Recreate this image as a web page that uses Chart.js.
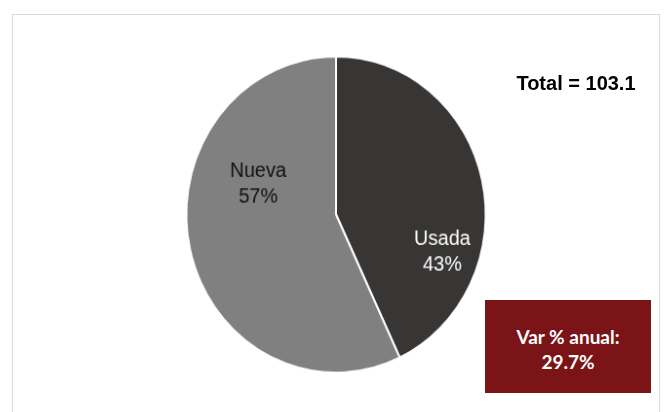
<!DOCTYPE html>
<html>
<head>
<meta charset="utf-8">
<script src="https://cdn.jsdelivr.net/npm/chart.js@4"></script>
<style>
    html, body { margin: 0; padding: 0; background: #fff; }
    #wrap { position: relative; width: 664px; height: 412px; overflow: hidden; }
    #frame {
        position: absolute; left: 12px; top: 14px; width: 648px; height: 420px;
        border: 1px solid #d9d9d9; box-sizing: border-box;
    }
    /* the reference pie is slightly taller than wide */
    #pieChart {
        position: absolute; left: 0; top: 0;
        transform-origin: 336px 214px; transform: scale(0.975, 1.03);
    }
    #total {
        position: absolute; left: 490px; top: 72px; width: 172px; text-align: center;
        font: bold 20px "Liberation Sans", Arial, sans-serif; color: #000;
    }
    #varBox {
        position: absolute; left: 485px; top: 300px; width: 166px; height: 93px;
        background: #7a1416; color: #fff; text-align: center;
        font: bold 19px Lato, "Open Sans", sans-serif; line-height: 25px;
        box-sizing: border-box; padding-top: 24px;
    }
</style>
</head>
<body>
<div id="wrap">
    <div id="frame"></div>
    <canvas id="pieChart" width="664" height="412"></canvas>
    <div id="total">Total = 103.1</div>
    <div id="varBox">Var % anual:<br>29.7%</div>
</div>
<script>
// Pie data
const categories = ['Usada', 'Nueva'];
const shares = [43, 57];
const sliceColors = ['#383635', '#808080'];
const labelColors = ['#ffffff', '#111111'];
// label anchor offsets, as a fraction of the radius
const labelOffsets = [[0.71, 0.235], [-0.52, -0.195]];

const sliceLabels = {
    id: 'sliceLabels',
    afterDatasetsDraw(chart) {
        const ctx = chart.ctx;
        const meta = chart.getDatasetMeta(0);
        ctx.save();
        ctx.font = '20px "Liberation Sans", Arial, sans-serif';
        ctx.textAlign = 'center';
        ctx.textBaseline = 'middle';
        meta.data.forEach((arc, i) => {
            const r = arc.outerRadius;
            const x = arc.x + labelOffsets[i][0] * r;
            const y = arc.y + labelOffsets[i][1] * r;
            ctx.fillStyle = labelColors[i];
            ctx.fillText(categories[i], x, y - 12);
            ctx.fillText(shares[i] + '%', x, y + 13);
        });
        ctx.restore();
    }
};

new Chart(document.getElementById('pieChart').getContext('2d'), {
    type: 'pie',
    data: {
        labels: categories,
        datasets: [{
            data: shares,
            backgroundColor: sliceColors,
            borderColor: '#ffffff',
            borderWidth: 2
        }]
    },
    options: {
        responsive: false,
        animation: false,
        layout: { padding: { top: 60, bottom: 43, left: 181, right: 173 } },
        plugins: {
            legend: { display: false },
            tooltip: { enabled: false }
        }
    },
    plugins: [sliceLabels]
});
</script>
</body>
</html>
